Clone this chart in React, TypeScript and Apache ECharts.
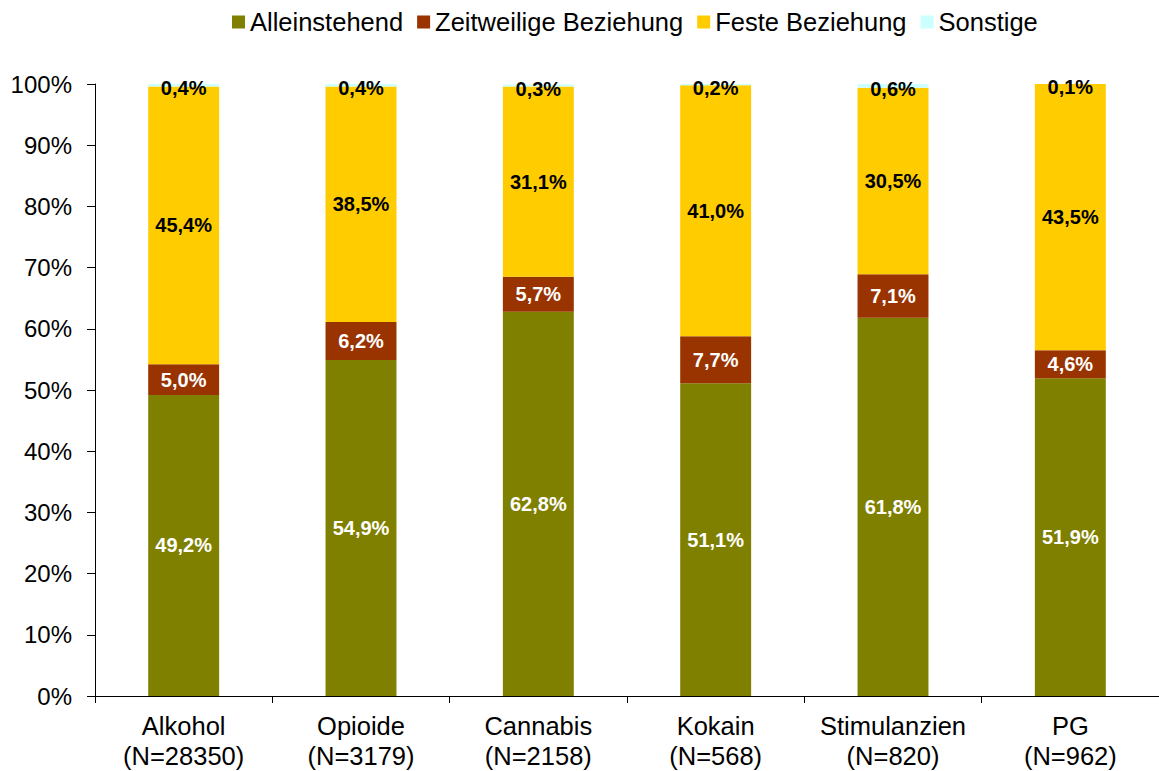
import React, { useEffect, useRef } from "react";
import * as echarts from "echarts";

const categories = [
  "Alkohol\n(N=28350)",
  "Opioide\n(N=3179)",
  "Cannabis\n(N=2158)",
  "Kokain\n(N=568)",
  "Stimulanzien\n(N=820)",
  "PG\n(N=962)",
];
const seriesNames = ["Alleinstehend", "Zeitweilige Beziehung", "Feste Beziehung", "Sonstige"];
const alleinstehend = [49.2, 54.9, 62.8, 51.1, 61.8, 51.9];
const zeitweilig = [5.0, 6.2, 5.7, 7.7, 7.1, 4.6];
const feste = [45.4, 38.5, 31.1, 41.0, 30.5, 43.5];
const sonstige = [0.4, 0.4, 0.3, 0.2, 0.6, 0.1];
const colors = ["#808000", "#993300", "#FFCC00", "#CCFFFF"];
const labelColors = ["#FFFFFF", "#FFFFFF", "#000000", "#000000"];

const FONT = "'Liberation Sans', Arial, sans-serif";

export default function App() {
  const ref = useRef<HTMLDivElement>(null);
  useEffect(() => {
    if (!ref.current) return;
    const chart = echarts.init(ref.current, null, { renderer: "svg" });
    const data = [alleinstehend, zeitweilig, feste, sonstige];
    chart.setOption({
      animation: false,
      textStyle: { fontFamily: FONT },
      color: colors,
      legend: {
        left: 227,
        top: 4,
        itemWidth: 13,
        itemHeight: 13,
        itemGap: 14,
        icon: "rect",
        textStyle: { fontFamily: FONT, fontSize: 25.5, color: "#000" },
        data: seriesNames,
      },
      grid: { left: 95, right: 0, top: 84, bottom: 74, containLabel: false },
      xAxis: {
        type: "category",
        data: categories,
        axisLine: { lineStyle: { color: "#000", width: 1 } },
        axisTick: { show: true, length: 7, lineStyle: { color: "#000" } },
        axisLabel: {
          fontFamily: FONT,
          fontSize: 25.5,
          color: "#000",
          lineHeight: 30,
          margin: 15,
          interval: 0,
        },
      },
      yAxis: {
        type: "value",
        min: 0,
        max: 100,
        interval: 10,
        axisLine: { show: true, lineStyle: { color: "#000", width: 1 } },
        axisTick: { show: true, length: 8, lineStyle: { color: "#000" } },
        splitLine: { show: false },
        axisLabel: {
          fontFamily: FONT,
          fontSize: 24,
          color: "#000",
          margin: 23,
          formatter: "{value}%",
        },
      },
      series: seriesNames.map((name, i) => ({
        name,
        type: "bar",
        stack: "total",
        barWidth: "40%",
        data: data[i],
        itemStyle: { color: colors[i] },
        label: {
          show: true,
          position: "inside",
          offset: i === 3 ? [0, 3] : [0, 0],
          fontFamily: FONT,
          fontSize: 20,
          fontWeight: "bold",
          color: labelColors[i],
          formatter: (p: any) => Number(p.value).toFixed(1).replace(".", ",") + "%",
        },
      })),
    });
    return () => chart.dispose();
  }, []);
  return (
    <div
      ref={ref}
      style={{ position: "absolute", left: 0, top: 0, width: 1159, height: 771, background: "#fff" }}
    />
  );
}
